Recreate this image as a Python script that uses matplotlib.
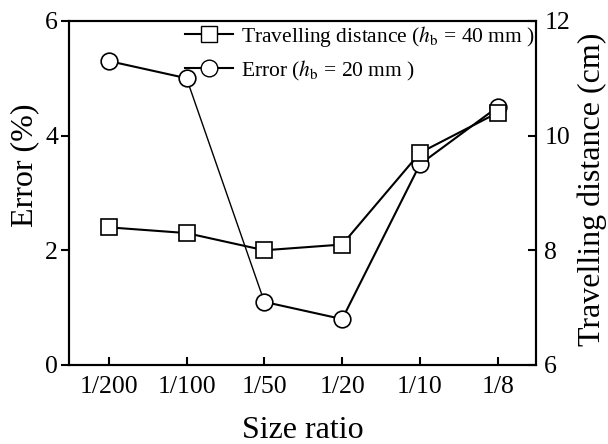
import matplotlib
matplotlib.use("Agg")
import matplotlib.pyplot as plt
from matplotlib.lines import Line2D

plt.rcParams['font.family'] = ['Liberation Serif', 'DejaVu Serif']
plt.rcParams['mathtext.fontset'] = 'stix'

# data
ratios = ["1/200", "1/100", "1/50", "1/20", "1/10", "1/8"]
error = [5.3, 5.0, 1.1, 0.8, 3.5, 4.5]            # Error (%), h_b = 20 mm
travel = [8.4, 8.3, 8.0, 8.1, 9.7, 10.4]          # Travelling distance (cm), h_b = 40 mm

x = list(range(len(ratios)))

fig = plt.figure(figsize=(6.08, 4.44), dpi=100)
ax = fig.add_axes([0.1135, 0.178, 0.768, 0.775])
ax2 = ax.twinx()

# error line, the 1/100 -> 1/50 segment is drawn thinner in the original
ax.plot(x[:2], error[:2], color='black', lw=1.5, zorder=2)
ax.plot(x[1:3], error[1:3], color='black', lw=1.0, zorder=2)
ax.plot(x[2:], error[2:], color='black', lw=1.5, zorder=2)
ax.plot(x, error, ls='none', marker='o', ms=12, mfc='white', mec='black',
        mew=1.2, zorder=3)

ax2.plot(x, travel, color='black', lw=1.5, marker='s', ms=11, mfc='white',
         mec='black', mew=1.2)

ax.set_xlim(-0.51, 5.49)
ax.set_ylim(0, 6)
ax2.set_ylim(6, 12)
ax.set_xticks(x)
ax.set_xticklabels(ratios)
ax.set_yticks([0, 2, 4, 6])
ax2.set_yticks([6, 8, 10, 12])

ax.tick_params(axis='x', direction='in', length=6, width=1.5, labelsize=18.5, pad=8)
ax.tick_params(axis='y', direction='out', length=6, width=1.5, labelsize=18.5, pad=2)
ax2.tick_params(axis='y', direction='in', length=6, width=1.5, labelsize=18.5, pad=6)

for a in (ax, ax2):
    for s in a.spines.values():
        s.set_linewidth(1.5)

ax.set_xlabel("Size ratio", fontsize=23, labelpad=13)
ax.set_ylabel("Error (%)", fontsize=23, va='center')
ax.yaxis.set_label_coords(-0.094, 0.58)
ax2.set_ylabel("Travelling distance (cm)", fontsize=23, rotation=90, va='center')
ax2.yaxis.set_label_coords(1.12, 0.51)

handles = [
    Line2D([], [], color='black', lw=1.5, marker='s', ms=11, mfc='white', mec='black'),
    Line2D([], [], color='black', lw=1.5, marker='o', ms=12, mfc='white', mec='black'),
]
labels = [r"Travelling distance ($h_\mathrm{b}$ = 40 mm )",
          r"Error ($h_\mathrm{b}$ = 20 mm )"]
ax2.legend(handles, labels, loc='upper right', bbox_to_anchor=(1.008, 1.004),
           frameon=False, fontsize=15.5, handlelength=2.2, handletextpad=0.4,
           labelspacing=0.45, borderaxespad=0.0, borderpad=0.2)

fig.savefig("out.png", dpi=100)
